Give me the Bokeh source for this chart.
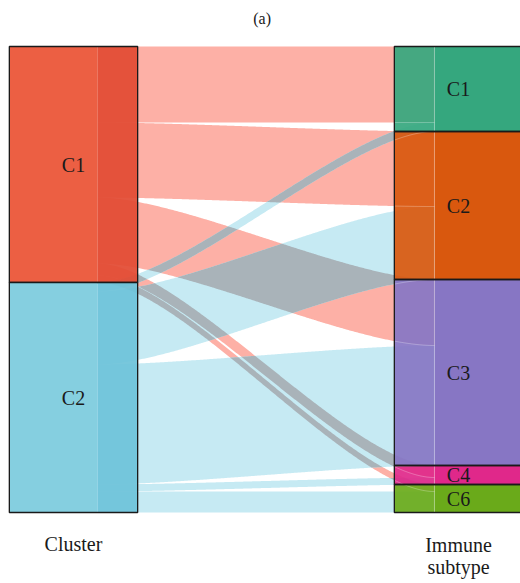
import numpy as np
from bokeh.plotting import figure
from bokeh.models import Range1d
from bokeh.core.properties import value
from bokeh.embed import file_html
from bokeh.resources import INLINE

# --- data: patients of each cluster falling into each immune subtype ---
clusters = ["C1", "C2"]
subtypes = ["C1", "C2", "C3", "C4", "C6"]
c1_to_subtype = [76, 75, 66, 12, 7]
c2_to_subtype = [9, 73, 120, 7, 21]

cluster_colors = ["#EC5F43", "#85CFE0"]
cluster_inner = ["#E24A33", "#6EC3D9"]
flow_colors = ["#FDB0A6", "#C6EAF3"]
overlap_color = "#A9B3B9"
subtype_colors = ["#35A77E", "#D9580E", "#8776C4", "#E0288A", "#6AAA1A"]

FONT = value("'Liberation Serif', 'Times New Roman', 'DejaVu Serif', serif")
TXT = "#1a1a1a"

counts = np.array([c1_to_subtype, c2_to_subtype], dtype=float)
total = counts.sum()
left_tot = counts.sum(axis=1)
right_tot = counts.sum(axis=0)
left_start = np.concatenate([[0], np.cumsum(left_tot)[:-1]])
right_start = np.concatenate([[0], np.cumsum(right_tot)[:-1]])

w = 1 / 3      # stratum width
fw = 1 / 8     # flow width (flows run under the strata up to here)
k = 0.25       # knot position of the curve

# x in axis units, y in patients (downwards); 385 px per axis unit, 1 px per patient
W, H = 520, 583
x_start = 1 - 73 / 385
p = figure(width=W, height=H, output_backend="svg", toolbar_location=None,
           x_range=Range1d(x_start, x_start + W / 385),
           y_range=Range1d(H - 46, -46), min_border=0)
p.axis.visible = False
p.grid.visible = False
p.outline_line_color = None
p.background_fill_color = "white"
p.border_fill_color = "white"

t = np.linspace(0, 1, 300)
x0, x1 = 1 + fw / 2, 2 - fw / 2
xs = x0 + (x1 - x0) * (3 * (1 - t) ** 2 * t * k + 3 * (1 - t) * t ** 2 * (1 - k) + t ** 3)
s = 3 * t ** 2 - 2 * t ** 3

flows = []  # (cluster index, top, bottom)
for i in range(len(clusters)):
    for j in range(len(subtypes)):
        n = counts[i, j]
        yl = left_start[i] + counts[i, :j].sum()
        yr = right_start[j] + counts[:i, j].sum()
        top = yl + (yr - yl) * s
        flows.append((i, top, top + n))

for i, top, bot in flows:
    p.varea(x=xs, y1=top, y2=bot, fill_color=flow_colors[i])

# where a C1 flow crosses a C2 flow
for ia, ta, ba in flows:
    if ia != 0:
        continue
    for ib, tb, bb in flows:
        if ib != 1:
            continue
        lo = np.maximum(ta, tb)
        hi = np.minimum(ba, bb)
        if np.any(hi > lo):
            p.varea(x=xs, y1=lo, y2=np.maximum(hi, lo), fill_color=overlap_color)

# left strata
for i, c in enumerate(clusters):
    y0, y1 = left_start[i], left_start[i] + left_tot[i]
    p.quad(left=1 - w / 2, right=1 + fw / 2, top=y0, bottom=y1,
           fill_color=cluster_colors[i], line_color=None)
    p.quad(left=1 + fw / 2, right=1 + w / 2, top=y0, bottom=y1,
           fill_color=cluster_inner[i], fill_alpha=0.93, line_color=None)
    p.quad(left=1 - w / 2, right=1 + w / 2, top=y0, bottom=y1,
           fill_color=None, line_color=TXT, line_width=1.3)
    p.text(x=[1], y=[(y0 + y1) / 2], text=[c], text_font=FONT, text_font_size="20px",
           text_align="center", text_baseline="middle", text_color=TXT)

# right strata
for j, c in enumerate(subtypes):
    y0, y1 = right_start[j], right_start[j] + right_tot[j]
    p.quad(left=2 - w / 2, right=2 - fw / 2, top=y0, bottom=y1,
           fill_color=subtype_colors[j], fill_alpha=0.92, line_color=None)
    p.quad(left=2 - fw / 2, right=2 + w / 2, top=y0, bottom=y1,
           fill_color=subtype_colors[j], line_color=None)

mask = xs >= 2 - w / 2
for i, top, bot in flows:
    p.line(xs[mask], bot[mask], line_color="white", line_alpha=0.4, line_width=0.7)
p.segment(x0=[2 - fw / 2], y0=[0], x1=[2 - fw / 2], y1=[total],
          line_color="white", line_alpha=0.35, line_width=0.8)

for j, c in enumerate(subtypes):
    y0, y1 = right_start[j], right_start[j] + right_tot[j]
    p.quad(left=2 - w / 2, right=2 + w / 2, top=y0, bottom=y1,
           fill_color=None, line_color=TXT, line_width=1.3)
    p.text(x=[2], y=[(y0 + y1) / 2], text=[c], text_font=FONT, text_font_size="20px",
           text_align="center", text_baseline="middle", text_color=TXT)

# axis names and panel tag
p.text(x=[1.49], y=[-28], text=["(a)"], text_font=FONT, text_font_size="16px",
       text_align="center", text_baseline="middle", text_color=TXT)
p.text(x=[1], y=[total + 31], text=["Cluster"], text_font=FONT, text_font_size="20px",
       text_align="center", text_baseline="middle", text_color=TXT)
p.text(x=[2, 2], y=[total + 32, total + 54], text=["Immune", "subtype"], text_font=FONT,
       text_font_size="20px", text_align="center", text_baseline="middle", text_color=TXT)

open("out.html", "w").write(file_html(p, INLINE))
